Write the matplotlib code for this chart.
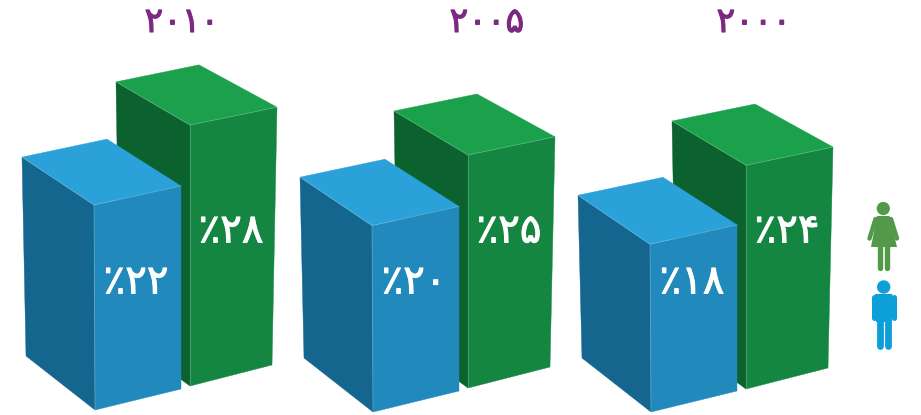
import matplotlib
matplotlib.use("Agg")
import matplotlib.pyplot as plt
import matplotlib.patheffects as pe
from matplotlib.patches import Polygon, Circle

years = [2010, 2005, 2000]
men = [22, 20, 18]
women = [28, 25, 24]

PERSIAN = str.maketrans("0123456789", "۰۱۲۳۴۵۶۷۸۹")
PX = 0.72  # one pixel in points at dpi 100
SCALE = 9.32  # pixels per percent

group_dx = [0, 278, 556]
group_dy_blue = [0, 2, 2]
group_dy_green = [0, 2, 3]
title_x = [182, 487, 754]

BLUE = {"front": "#2289BC", "side": "#14668F", "top": "#2AA1D8", "label_y": 282.5, "label_dx": 41,
        "left": (26, 356), "mid": (95, 410), "right": (181, 389),
        "shift": (-4, -1, 0), "k": (0.97, 1.0, 0.99), "back": (85, -18)}
GREEN = {"front": "#148642", "side": "#0C622F", "top": "#1BA04C", "label_y": 231.5, "label_dx": 41,
         "left": (120, 335), "mid": (190, 386), "right": (272, 365),
         "shift": (-4, 0, 5), "k": (0.97, 1.0, 0.988), "back": (83, -17)}


def draw_bar(ax, style, value, dx, dy):
    h = value * SCALE
    bl = (style["left"][0] + dx, style["left"][1] + dy)
    bm = (style["mid"][0] + dx, style["mid"][1] + dy)
    br = (style["right"][0] + dx, style["right"][1] + dy)
    tl = (bl[0] + style["shift"][0], bl[1] - h * style["k"][0])
    tm = (bm[0] + style["shift"][1], bm[1] - h * style["k"][1])
    tr = (br[0] + style["shift"][2], br[1] - h * style["k"][2])
    tb = (tl[0] + style["back"][0], tl[1] + style["back"][1])
    ax.add_patch(Polygon([tl, tm, bm, bl], fc=style["side"], ec=style["side"], lw=0.3))
    ax.add_patch(Polygon([tm, tr, br, bm], fc=style["front"], ec=style["front"], lw=0.3))
    ax.add_patch(Polygon([tl, tb, tr, tm], fc=style["top"], ec=style["top"], lw=0.3))
    # pale seams between the faces
    ax.plot([tl[0], tm[0], tr[0]], [tl[1], tm[1], tr[1]], color="white", alpha=0.22, lw=0.6)
    ax.plot([tm[0], bm[0]], [tm[1], bm[1]], color="white", alpha=0.22, lw=0.6)
    label = ("٪" + str(value)).translate(PERSIAN)
    ax.text(bm[0] + style["label_dx"], style["label_y"], label, color="white", fontsize=29,
            family="DejaVu Sans", ha="center", va="center",
            path_effects=[pe.withStroke(linewidth=0.7, foreground="white")])


def draw_people(ax):
    green = "#52994A"
    blue = "#0C9FD8"
    # woman
    ax.add_patch(Circle((883.3, 208.5), 6.6, fc=green, ec="none"))
    ax.add_patch(Polygon([(877, 216), (889.5, 216), (897, 247), (871, 247)], fc=green, ec="none"))
    ax.plot([875.5, 869.5], [219, 238.5], color=green, lw=4.4 * PX, solid_capstyle="round")
    ax.plot([891, 897], [219, 238.5], color=green, lw=4.4 * PX, solid_capstyle="round")
    ax.plot([880, 880], [245, 268], color=green, lw=5.4 * PX, solid_capstyle="round")
    ax.plot([887, 887], [245, 268], color=green, lw=5.4 * PX, solid_capstyle="round")
    # man
    ax.add_patch(Circle((883.7, 287), 6.7, fc=blue, ec="none"))
    ax.add_patch(Polygon([(875, 294), (892.5, 294), (892, 322), (876, 322)], fc=blue, ec="none"))
    ax.plot([874, 874], [297, 318], color=blue, lw=5 * PX, solid_capstyle="round")
    ax.plot([893.5, 893.5], [297, 318], color=blue, lw=5 * PX, solid_capstyle="round")
    ax.plot([879.5, 879.5], [318, 346], color=blue, lw=6.8 * PX, solid_capstyle="round")
    ax.plot([888, 888], [318, 346], color=blue, lw=6.8 * PX, solid_capstyle="round")


fig = plt.figure(figsize=(9.21, 4.15), dpi=100)
ax = fig.add_axes([0, 0, 1, 1])
ax.set_xlim(0, 921)
ax.set_ylim(415, 0)
ax.axis("off")

for i, year in enumerate(years):
    draw_bar(ax, GREEN, women[i], group_dx[i], group_dy_green[i])
    draw_bar(ax, BLUE, men[i], group_dx[i], group_dy_blue[i])
    ax.text(title_x[i], 32, str(year).translate(PERSIAN), color="#7B2A80", fontsize=25,
            family="DejaVu Sans", ha="center", va="baseline",
            path_effects=[pe.withStroke(linewidth=0.8, foreground="#7B2A80")])

draw_people(ax)

fig.savefig("out.png", dpi=100)
